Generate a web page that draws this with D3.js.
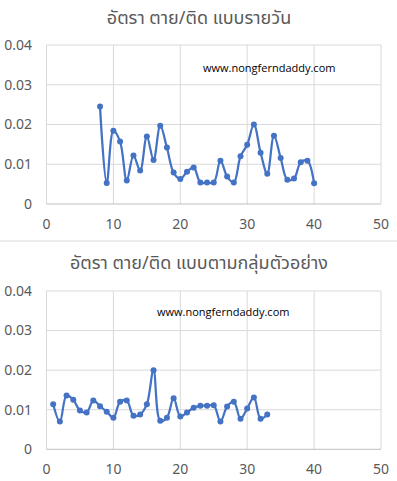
<!DOCTYPE html>
<html lang="th">
<head>
  <meta charset="UTF-8">
  <title>อัตรา ตาย/ติด</title>
  <script src="https://d3js.org/d3.v7.min.js"></script>
  <style>
    body { margin: 0; background: #fff; }
    svg { display: block; }
  </style>
</head>
<body>
  <svg id="chart" width="397" height="481"></svg>
  <script>
    // Chart titles and watermark
    const titleDaily = "อัตรา ตาย/ติด แบบรายวัน";
    const titleGroup = "อัตรา ตาย/ติด แบบตามกลุ่มตัวอย่าง";
    const watermark = "www.nongferndaddy.com";

    // Axis ticks
    const xTicks = [0, 10, 20, 30, 40, 50];
    const yTicks = [0, 0.01, 0.02, 0.03, 0.04];

    // Daily series (day 8 .. 40)
    const dailyX = [8, 9, 10, 11, 12, 13, 14, 15, 16, 17, 18, 19, 20, 21, 22, 23, 24,
                    25, 26, 27, 28, 29, 30, 31, 32, 33, 34, 35, 36, 37, 38, 39, 40];
    const dailyY = [0.0245, 0.0053, 0.0184, 0.0157, 0.0059, 0.0122, 0.0084, 0.0170,
                    0.0111, 0.0197, 0.0142, 0.0079, 0.0063, 0.0081, 0.0092, 0.0054,
                    0.0054, 0.0054, 0.0109, 0.0069, 0.0054, 0.0120, 0.0149, 0.0200,
                    0.0129, 0.0076, 0.0172, 0.0116, 0.0061, 0.0064, 0.0105, 0.0109, 0.0052];

    // Sample-group series (group 1 .. 33)
    const groupX = d3.range(1, 34);
    const groupY = [0.0114, 0.0070, 0.0136, 0.0125, 0.0098, 0.0093, 0.0123, 0.0109,
                    0.0095, 0.0080, 0.0120, 0.0123, 0.0085, 0.0088, 0.0114, 0.0200,
                    0.0072, 0.0080, 0.0129, 0.0083, 0.0093, 0.0105, 0.0110, 0.0110,
                    0.0111, 0.0070, 0.0108, 0.0120, 0.0077, 0.0103, 0.0131, 0.0077, 0.0088];

    const svg = d3.select("#chart");
    const blue = "#4472C4";
    const labelColor = "#595959";
    const font = "'Noto Sans Thai', 'Noto Sans', 'Open Sans', sans-serif";

    function drawChart(opts) {
      const g = svg.append("g");

      const x = d3.scaleLinear().domain([0, 50]).range([46.5, 381]);
      const y = d3.scaleLinear().domain([0, 0.04]).range([opts.bottom, opts.top]);

      // Gridlines
      g.selectAll(".hgrid")
        .data(yTicks.filter(d => d > 0))
        .enter().append("line")
        .attr("x1", x(0)).attr("x2", x(50))
        .attr("y1", d => y(d)).attr("y2", d => y(d))
        .attr("stroke", "#d9d9d9").attr("stroke-width", 1);

      g.selectAll(".vgrid")
        .data(xTicks)
        .enter().append("line")
        .attr("x1", d => x(d)).attr("x2", d => x(d))
        .attr("y1", y(0.04)).attr("y2", y(0))
        .attr("stroke", "#d9d9d9").attr("stroke-width", 1);

      // Bottom axis line
      g.append("line")
        .attr("x1", x(0)).attr("x2", x(50))
        .attr("y1", y(0)).attr("y2", y(0))
        .attr("stroke", "#bfbfbf").attr("stroke-width", 1);

      // Y tick labels
      g.selectAll(".ylab")
        .data(yTicks)
        .enter().append("text")
        .attr("x", 32)
        .attr("y", d => y(d))
        .attr("dy", "0.35em")
        .attr("text-anchor", "end")
        .attr("fill", labelColor)
        .style("font-family", font)
        .style("font-size", "14px")
        .text(d => d === 0 ? "0" : d3.format(".2f")(d));

      // X tick labels
      g.selectAll(".xlab")
        .data(xTicks)
        .enter().append("text")
        .attr("x", d => x(d))
        .attr("y", y(0) + 20)
        .attr("dy", "0.35em")
        .attr("text-anchor", "middle")
        .attr("fill", labelColor)
        .style("font-family", font)
        .style("font-size", "14px")
        .text(d => d);

      // Title
      g.append("text")
        .attr("x", 199)
        .attr("y", opts.titleY)
        .attr("dy", "0.35em")
        .attr("text-anchor", "middle")
        .attr("fill", labelColor)
        .style("font-family", font)
        .style("font-size", "18px")
        .text(opts.title);

      // Watermark
      g.append("text")
        .attr("x", opts.markX)
        .attr("y", opts.markY)
        .attr("dy", "0.35em")
        .attr("fill", "#000")
        .style("font-family", "'Open Sans', sans-serif")
        .style("font-size", "11px")
        .text(watermark);

      // Series
      const pts = opts.xs.map((d, i) => ({ x: d, y: opts.ys[i] }));
      const line = d3.line()
        .x(d => x(d.x))
        .y(d => y(d.y))
        .curve(d3.curveCatmullRom.alpha(0.5));

      g.append("path")
        .datum(pts)
        .attr("fill", "none")
        .attr("stroke", blue)
        .attr("stroke-width", 2.25)
        .attr("stroke-linejoin", "round")
        .attr("d", line);

      g.selectAll(".dot")
        .data(pts)
        .enter().append("circle")
        .attr("cx", d => x(d.x))
        .attr("cy", d => y(d.y))
        .attr("r", 3)
        .attr("fill", blue);
    }

    drawChart({ title: titleDaily, titleY: 18, top: 45, bottom: 204,
                markX: 203, markY: 68, xs: dailyX, ys: dailyY });

    // Separator between the two charts
    svg.append("line")
      .attr("x1", 0).attr("x2", 397)
      .attr("y1", 241).attr("y2", 241)
      .attr("stroke", "#d9d9d9").attr("stroke-width", 1);

    drawChart({ title: titleGroup, titleY: 263, top: 291, bottom: 449.3,
                markX: 157, markY: 312, xs: groupX, ys: groupY });
  </script>
</body>
</html>
